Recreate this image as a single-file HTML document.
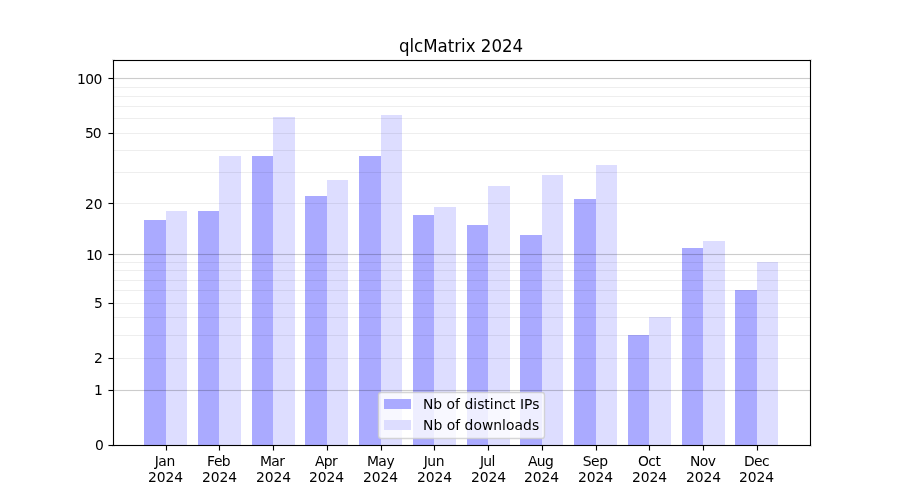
<!DOCTYPE html>
<html lang="en"><head><meta charset="utf-8"><title>qlcMatrix 2024</title>
<style>html,body{margin:0;padding:0;background:#fff;overflow:hidden}svg{display:block}text{font-family:"DejaVu Sans","Liberation Sans",sans-serif;fill:#000}.t{font-size:13.889px}.tt{font-size:16.667px}</style>
</head><body>
<svg width="900" height="500" viewBox="0 0 900 500">
<rect x="0" y="0" width="900" height="500" fill="#fff"/>
<g shape-rendering="crispEdges">
<rect x="144" y="220" width="22" height="225" fill="#aaaaff"/>
<rect x="166" y="211" width="21" height="234" fill="#ddddff"/>
<rect x="198" y="211" width="21" height="234" fill="#aaaaff"/>
<rect x="219" y="156" width="22" height="289" fill="#ddddff"/>
<rect x="252" y="156" width="21" height="289" fill="#aaaaff"/>
<rect x="273" y="117" width="22" height="328" fill="#ddddff"/>
<rect x="305" y="196" width="22" height="249" fill="#aaaaff"/>
<rect x="327" y="180" width="21" height="265" fill="#ddddff"/>
<rect x="359" y="156" width="22" height="289" fill="#aaaaff"/>
<rect x="381" y="115" width="21" height="330" fill="#ddddff"/>
<rect x="413" y="215" width="21" height="230" fill="#aaaaff"/>
<rect x="434" y="207" width="22" height="238" fill="#ddddff"/>
<rect x="467" y="225" width="21" height="220" fill="#aaaaff"/>
<rect x="488" y="186" width="22" height="259" fill="#ddddff"/>
<rect x="520" y="235" width="22" height="210" fill="#aaaaff"/>
<rect x="542" y="175" width="21" height="270" fill="#ddddff"/>
<rect x="574" y="199" width="22" height="246" fill="#aaaaff"/>
<rect x="596" y="165" width="21" height="280" fill="#ddddff"/>
<rect x="628" y="335" width="21" height="110" fill="#aaaaff"/>
<rect x="649" y="317" width="22" height="128" fill="#ddddff"/>
<rect x="682" y="248" width="21" height="197" fill="#aaaaff"/>
<rect x="703" y="241" width="22" height="204" fill="#ddddff"/>
<rect x="735" y="290" width="22" height="155" fill="#aaaaff"/>
<rect x="757" y="262" width="21" height="183" fill="#ddddff"/>
<rect x="114" y="358" width="696" height="1" fill="#000" fill-opacity="0.065"/>
<rect x="114" y="335" width="696" height="1" fill="#000" fill-opacity="0.065"/>
<rect x="114" y="317" width="696" height="1" fill="#000" fill-opacity="0.065"/>
<rect x="114" y="303" width="696" height="1" fill="#000" fill-opacity="0.065"/>
<rect x="114" y="290" width="696" height="1" fill="#000" fill-opacity="0.065"/>
<rect x="114" y="280" width="696" height="1" fill="#000" fill-opacity="0.065"/>
<rect x="114" y="270" width="696" height="1" fill="#000" fill-opacity="0.065"/>
<rect x="114" y="262" width="696" height="1" fill="#000" fill-opacity="0.065"/>
<rect x="114" y="203" width="696" height="1" fill="#000" fill-opacity="0.065"/>
<rect x="114" y="172" width="696" height="1" fill="#000" fill-opacity="0.065"/>
<rect x="114" y="150" width="696" height="1" fill="#000" fill-opacity="0.065"/>
<rect x="114" y="133" width="696" height="1" fill="#000" fill-opacity="0.065"/>
<rect x="114" y="118" width="696" height="1" fill="#000" fill-opacity="0.065"/>
<rect x="114" y="106" width="696" height="1" fill="#000" fill-opacity="0.065"/>
<rect x="114" y="96" width="696" height="1" fill="#000" fill-opacity="0.065"/>
<rect x="114" y="87" width="696" height="1" fill="#000" fill-opacity="0.065"/>
<rect x="114" y="389" width="696" height="3" fill="#000" fill-opacity="0.0110"/>
<rect x="114" y="390" width="696" height="1" fill="#000" fill-opacity="0.1890"/>
<rect x="114" y="253" width="696" height="3" fill="#000" fill-opacity="0.0110"/>
<rect x="114" y="254" width="696" height="1" fill="#000" fill-opacity="0.1890"/>
<rect x="114" y="77" width="696" height="3" fill="#000" fill-opacity="0.0110"/>
<rect x="114" y="78" width="696" height="1" fill="#000" fill-opacity="0.1890"/>
</g>
<g shape-rendering="crispEdges" fill="#000">
<rect x="112" y="59" width="700" height="3" fill-opacity="0.055"/>
<rect x="112" y="444" width="700" height="3" fill-opacity="0.055"/>
<rect x="112" y="59" width="3" height="388" fill-opacity="0.055"/>
<rect x="809" y="59" width="3" height="388" fill-opacity="0.055"/>
<rect x="113" y="60" width="698" height="1"/>
<rect x="113" y="445" width="698" height="1"/>
<rect x="113" y="60" width="1" height="386"/>
<rect x="810" y="60" width="1" height="386"/>
<rect x="108" y="444" width="5" height="3" fill-opacity="0.055"/>
<rect x="108" y="445" width="1" height="1" fill-opacity="0.5"/>
<rect x="109" y="445" width="4" height="1"/>
<rect x="108" y="389" width="5" height="3" fill-opacity="0.055"/>
<rect x="108" y="390" width="1" height="1" fill-opacity="0.5"/>
<rect x="109" y="390" width="4" height="1"/>
<rect x="108" y="357" width="5" height="3" fill-opacity="0.055"/>
<rect x="108" y="358" width="1" height="1" fill-opacity="0.5"/>
<rect x="109" y="358" width="4" height="1"/>
<rect x="108" y="302" width="5" height="3" fill-opacity="0.055"/>
<rect x="108" y="303" width="1" height="1" fill-opacity="0.5"/>
<rect x="109" y="303" width="4" height="1"/>
<rect x="108" y="253" width="5" height="3" fill-opacity="0.055"/>
<rect x="108" y="254" width="1" height="1" fill-opacity="0.5"/>
<rect x="109" y="254" width="4" height="1"/>
<rect x="108" y="202" width="5" height="3" fill-opacity="0.055"/>
<rect x="108" y="203" width="1" height="1" fill-opacity="0.5"/>
<rect x="109" y="203" width="4" height="1"/>
<rect x="108" y="132" width="5" height="3" fill-opacity="0.055"/>
<rect x="108" y="133" width="1" height="1" fill-opacity="0.5"/>
<rect x="109" y="133" width="4" height="1"/>
<rect x="108" y="77" width="5" height="3" fill-opacity="0.055"/>
<rect x="108" y="78" width="1" height="1" fill-opacity="0.5"/>
<rect x="109" y="78" width="4" height="1"/>
<rect x="165" y="446" width="3" height="5" fill-opacity="0.055"/>
<rect x="166" y="446" width="1" height="4"/>
<rect x="166" y="450" width="1" height="1" fill-opacity="0.5"/>
<rect x="218" y="446" width="3" height="5" fill-opacity="0.055"/>
<rect x="219" y="446" width="1" height="4"/>
<rect x="219" y="450" width="1" height="1" fill-opacity="0.5"/>
<rect x="272" y="446" width="3" height="5" fill-opacity="0.055"/>
<rect x="273" y="446" width="1" height="4"/>
<rect x="273" y="450" width="1" height="1" fill-opacity="0.5"/>
<rect x="326" y="446" width="3" height="5" fill-opacity="0.055"/>
<rect x="327" y="446" width="1" height="4"/>
<rect x="327" y="450" width="1" height="1" fill-opacity="0.5"/>
<rect x="380" y="446" width="3" height="5" fill-opacity="0.055"/>
<rect x="381" y="446" width="1" height="4"/>
<rect x="381" y="450" width="1" height="1" fill-opacity="0.5"/>
<rect x="433" y="446" width="3" height="5" fill-opacity="0.055"/>
<rect x="434" y="446" width="1" height="4"/>
<rect x="434" y="450" width="1" height="1" fill-opacity="0.5"/>
<rect x="487" y="446" width="3" height="5" fill-opacity="0.055"/>
<rect x="488" y="446" width="1" height="4"/>
<rect x="488" y="450" width="1" height="1" fill-opacity="0.5"/>
<rect x="541" y="446" width="3" height="5" fill-opacity="0.055"/>
<rect x="542" y="446" width="1" height="4"/>
<rect x="542" y="450" width="1" height="1" fill-opacity="0.5"/>
<rect x="595" y="446" width="3" height="5" fill-opacity="0.055"/>
<rect x="596" y="446" width="1" height="4"/>
<rect x="596" y="450" width="1" height="1" fill-opacity="0.5"/>
<rect x="648" y="446" width="3" height="5" fill-opacity="0.055"/>
<rect x="649" y="446" width="1" height="4"/>
<rect x="649" y="450" width="1" height="1" fill-opacity="0.5"/>
<rect x="702" y="446" width="3" height="5" fill-opacity="0.055"/>
<rect x="703" y="446" width="1" height="4"/>
<rect x="703" y="450" width="1" height="1" fill-opacity="0.5"/>
<rect x="756" y="446" width="3" height="5" fill-opacity="0.055"/>
<rect x="757" y="446" width="1" height="4"/>
<rect x="757" y="450" width="1" height="1" fill-opacity="0.5"/>
</g>
<g>
<rect x="378.5" y="392.5" width="166" height="46" rx="2.8" ry="2.8" fill="#fff" fill-opacity="0.8" stroke="#ccc" stroke-opacity="0.8" stroke-width="1.39"/>
<rect x="384" y="399" width="27" height="10" fill="#aaaaff" shape-rendering="crispEdges"/>
<rect x="384" y="420" width="27" height="10" fill="#ddddff" shape-rendering="crispEdges"/>
<text class="t" x="422.9 433.28 442.15 446.53 455.03 460.03 464.4 473.28 477.15 484.28 489.78 493.65 502.4 510.03 515.53 519.9 523.9 532.28" y="408.6">Nb of distinct IPs</text>
<text class="t" x="423.1 433.48 442.35 446.73 455.23 460.23 464.6 473.48 481.98 493.35 502.1 505.98 514.48 523.1 531.98" y="429.6">Nb of downloads</text>
</g>
<g>
<text class="t" x="94.95" y="450">0</text>
<text class="t" x="93.92" y="395">1</text>
<text class="t" x="93.95" y="363">2</text>
<text class="t" x="93.95" y="308">5</text>
<text class="t" x="85.88 93.65" y="260">10</text>
<text class="t" x="84.9 93.65" y="209">20</text>
<text class="t" x="84.9 92.65" y="138">50</text>
<text class="t" x="76.92 85.3 93.55" y="84">100</text>
</g>
<g>
<text class="t" x="154.71 158.31 166.54" y="466">Jan</text>
<text class="t" x="147.9 156.65 165.4 174.15" y="481.6">2024</text>
<text class="t" x="206.91 214.11 221.81" y="466">Feb</text>
<text class="t" x="201.9 210.65 219.4 228.15" y="481.6">2024</text>
<text class="t" x="259.91 271.21 279.14" y="466">Mar</text>
<text class="t" x="255.9 264.65 273.4 282.15" y="481.6">2024</text>
<text class="t" x="314.94 323.74 331.91" y="466">Apr</text>
<text class="t" x="308.9 317.65 326.4 335.15" y="481.6">2024</text>
<text class="t" x="366.96 378.36 386.39" y="466">May</text>
<text class="t" x="362.9 371.65 380.4 389.15" y="481.6">2024</text>
<text class="t" x="423.65 427.35 435.8" y="466">Jun</text>
<text class="t" x="416.9 425.65 434.4 443.15" y="481.6">2024</text>
<text class="t" x="479.89 483.29 491.44" y="466">Jul</text>
<text class="t" x="470.9 479.65 488.4 497.15" y="481.6">2024</text>
<text class="t" x="527.94 536.84 544.99" y="466">Aug</text>
<text class="t" x="523.9 532.65 541.4 550.15" y="481.6">2024</text>
<text class="t" x="582.64 591.09 599.29" y="466">Sep</text>
<text class="t" x="577.9 586.65 595.4 604.15" y="481.6">2024</text>
<text class="t" x="637.9 648.27 655.4" y="466">Oct</text>
<text class="t" x="631.9 640.65 649.4 658.15" y="481.6">2024</text>
<text class="t" x="689.94 699.81 707.81" y="466">Nov</text>
<text class="t" x="685.9 694.65 703.4 712.15" y="481.6">2024</text>
<text class="t" x="743.96 754.11 762.01" y="466">Dec</text>
<text class="t" x="738.9 747.65 756.4 765.15" y="481.6">2024</text>
</g>
<text class="tt" transform="scale(1,1.07)" x="398.89 409.39 414.01 423.14 437.51 447.64 454.14 461.01 465.64 475.51 480.76 491.39 501.89 512.51" y="48.598">qlcMatrix 2024</text>
</svg>
</body></html>
